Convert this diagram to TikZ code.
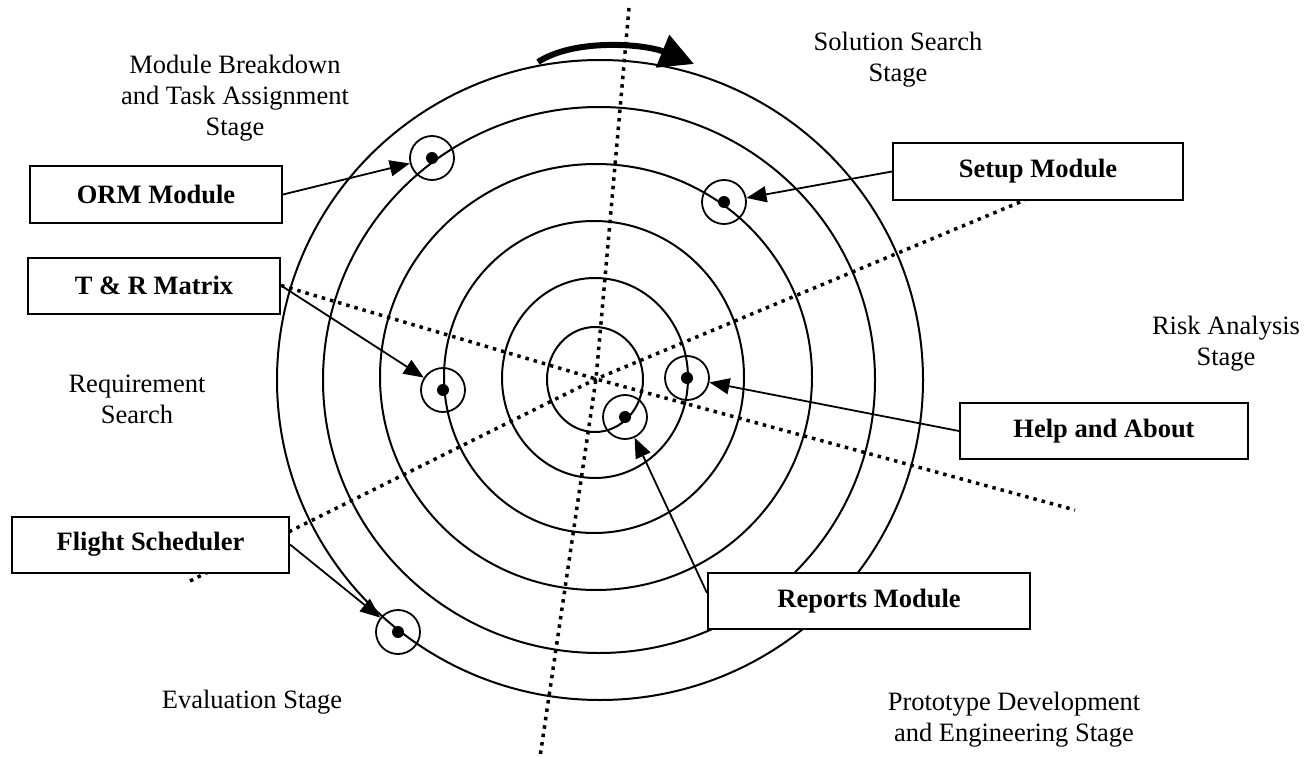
\documentclass[tikz,border=0pt]{standalone}
\usepackage{fontspec}
\setmainfont{Liberation Serif}
\usepackage{tikz}
\usetikzlibrary{arrows.meta,calc}
\newcommand{\grossschrift}{\fontsize{26.5pt}{31pt}\selectfont}
\tikzset{
  modul/.style={draw,line width=2pt,fill=white,minimum width=#1,minimum height=56pt,
    inner sep=0pt,font=\grossschrift\bfseries},
  stufe/.style={align=center,font=\grossschrift},
  marker/.style={draw,circle,line width=1.8pt,minimum size=44pt,inner sep=0pt},
  punkt/.style={fill,circle,minimum size=12pt,inner sep=0pt},
  pfeil/.style={->,line width=1.8pt},
  gepunktet/.style={line width=3.5pt,dash pattern=on 3.5pt off 5pt},
}

\begin{document}
\begin{tikzpicture}[x=1pt,y=-1pt,>={Triangle[length=20pt,width=16pt]}]
  \useasboundingbox (0,0) rectangle (1315,757);
  % Spirale
  \foreach \cx/\cy/\rx/\ry in {595/379.5/48/52.5, 595/378/93/100, 594/377/150/156,
      596/377/216/213, 599/380/276/273, 600/380/323/320} {
    \draw[line width=2pt] (\cx,\cy) ellipse [x radius=\rx, y radius=\ry];
  }
  % Drehrichtung
  \coordinate (bogen a) at (538,62);
  \coordinate (bogen b) at (694,64);
  \draw[line width=6pt,-{Triangle[length=34pt,width=34pt]}]
    (bogen a) .. controls (575,38) and (645,44) .. (bogen b);
  % Achsen
  \coordinate (hub) at (596,379);
  \coordinate (oben) at (629,8);
  \coordinate (unten) at (540,757);
  \coordinate (ende rechts) at (1075,510);
  \coordinate (ende links) at (190,581);
  \coordinate (ende setup) at (1025,200);
  \draw[gepunktet] (oben) -- (hub) -- (unten);
  \draw[gepunktet] (ende links) -- (hub) -- (ende setup);
  % Module
  \node[modul=252pt] (orm) at (156,194.5) {ORM Module};
  \node[modul=252pt] (tr) at (154,285.5) {T \& R Matrix};
  \node[modul=277pt] (fs) at (150.5,544.5) {Flight Scheduler};
  \node[modul=290pt] (setup) at (1038,171.5) {Setup Module};
  \node[modul=288pt] (help) at (1104,431) {Help and About};
  \node[modul=322pt] (rep) at (869,601) {Reports Module};
  \draw[gepunktet] (tr.east) -- (hub) -- (ende rechts);
  % Markierungen
  \foreach \n/\x/\y in {morm/432/158, msetup/724/202, mtr/443/390,
      mhelp/687/378, mrep/625/417, mfs/398/632} {
    \node[marker] (\n) at (\x,\y) {};
    \node[punkt] (\n p) at (\x,\y) {};
  }
  \draw[pfeil] (orm.east) -- (morm);
  \draw[pfeil] (tr.east) -- (mtr);
  \draw[pfeil] (fs.east) -- (mfs);
  \draw[pfeil] (setup.west) -- (msetup);
  \draw[pfeil] (help.west) -- (mhelp);
  \draw[pfeil] ([yshift=8pt]rep.west) -- (mrep);
  % Stufen
  \node[stufe] (s1) at (235,98) {Module Breakdown\\and Task Assignment\\Stage};
  \node[stufe] (s2) at (898,60) {Solution Search\\Stage};
  \node[stufe] (s3) at (1226,344) {Risk Analysis\\Stage};
  \node[stufe] (s4) at (1014,720) {Prototype Development\\and Engineering Stage};
  \node[stufe] (s5) at (252,702) {Evaluation Stage};
  \node[stufe] (s6) at (137,399) {Requirement\\Search};
\end{tikzpicture}
\end{document}
